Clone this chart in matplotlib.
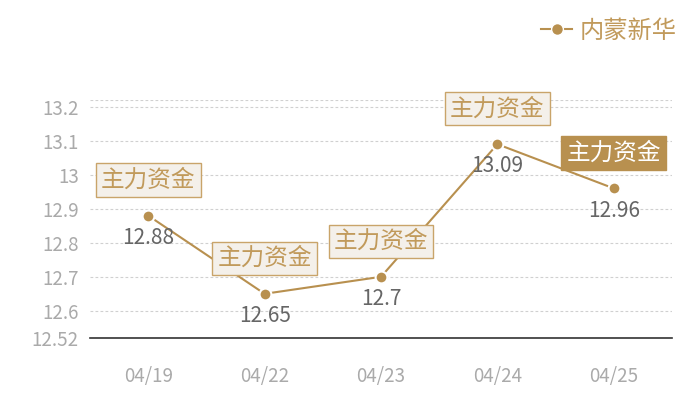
import matplotlib
matplotlib.use('Agg')
import matplotlib.pyplot as plt
from matplotlib.lines import Line2D

plt.rcParams['font.family'] = ['Noto Sans CJK SC', 'DejaVu Sans']

# 數據
dates = ['04/19', '04/22', '04/23', '04/24', '04/25']
prices = [12.88, 12.65, 12.7, 13.09, 12.96]
value_labels = ['12.88', '12.65', '12.7', '13.09', '12.96']
tag_text = '主力资金'
series_name = '内蒙新华'
yticks = [12.52, 12.6, 12.7, 12.8, 12.9, 13.0, 13.1, 13.2, 13.22]
ytick_labels = ['12.52', '12.6', '12.7', '12.8', '12.9', '13', '13.1', '13.2', '']

gold = '#b8904f'
tag_text_color = '#c19a5b'

fig = plt.figure(figsize=(7, 4), dpi=100)
ax = fig.add_axes([90 / 700, 62 / 400, 582 / 700, 238 / 400])

x = list(range(len(dates)))
ax.plot(x, prices, color=gold, lw=1.5, marker='o', ms=8.5,
        mfc=gold, mec='white', mew=1.5, zorder=3)

ax.set_xlim(-0.5, len(dates) - 0.5)
ax.set_ylim(12.52, 13.22)
ax.set_xticks(x)
ax.set_xticklabels(dates)
ax.set_yticks(yticks)
ax.set_yticklabels(ytick_labels)
ax.tick_params(axis='x', length=0, pad=20, labelsize=13.5, colors='#aaaaaa')
ax.tick_params(axis='y', length=0, pad=8, labelsize=13.5, colors='#aaaaaa')

ax.grid(axis='y', color='#d0d0d0', ls=(0, (2.5, 2)), lw=0.8)
ax.set_axisbelow(True)
for s in ['top', 'right', 'left']:
    ax.spines[s].set_visible(False)
ax.spines['bottom'].set_color('#333333')
ax.spines['bottom'].set_linewidth(1.2)

# 標籤
for i, (xi, yi) in enumerate(zip(x, prices)):
    ax.annotate(value_labels[i], (xi, yi), xytext=(0, -16), textcoords='offset points',
                ha='center', va='center', fontsize=15, color='#666666', zorder=4)
    last = i == len(x) - 1
    ax.annotate(tag_text, (xi, yi), xytext=(0, 25.5), textcoords='offset points',
                ha='center', va='center', fontsize=17,
                color='white' if last else tag_text_color, zorder=5,
                bbox=dict(boxstyle='square,pad=0.22',
                          fc=gold if last else '#f4f0ea',
                          ec=gold if last else '#c9a46a', lw=1))

# 圖例
handle = Line2D([0], [0], color=gold, lw=1.5, marker='o', ms=8.5, mfc=gold, mec='white')
fig.legend([handle], [series_name], loc='upper right', bbox_to_anchor=(0.998, 1.01),
           frameon=False, fontsize=17.5, labelcolor=tag_text_color,
           handlelength=1.3, handletextpad=0.3)

fig.savefig('out.png', dpi=100)
